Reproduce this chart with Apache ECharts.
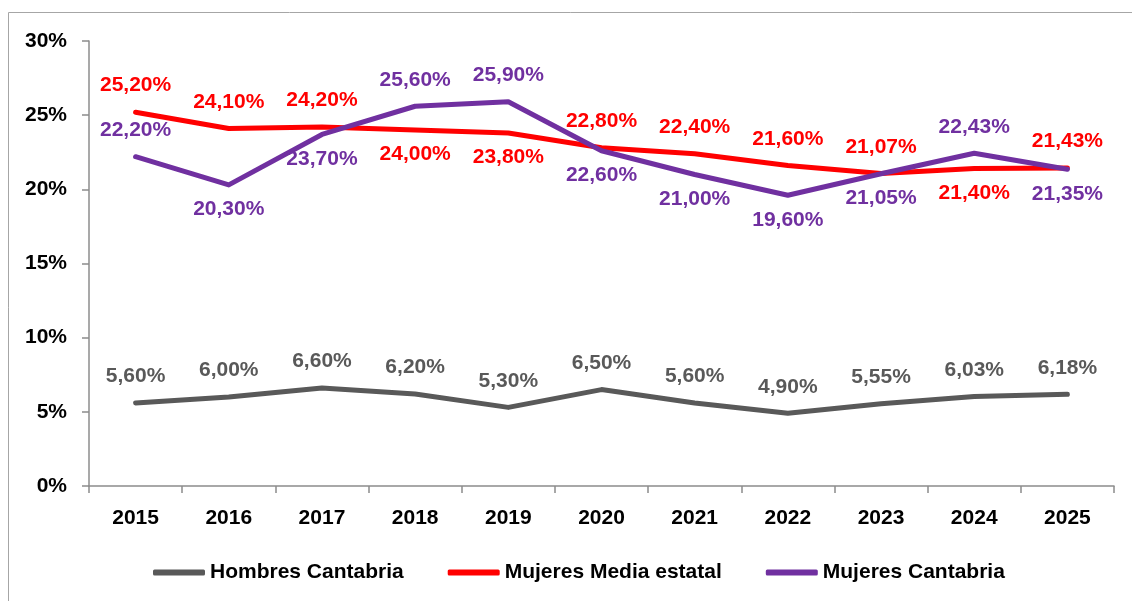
<!DOCTYPE html>
<html>
<head>
<meta charset="utf-8">
<script src="https://cdn.jsdelivr.net/npm/echarts@6/dist/echarts.min.js"></script>
<style>
  html, body { margin: 0; padding: 0; background: #fff; }
  #chart { width: 1132px; height: 601px; }
</style>
</head>
<body>
<div id="chart"></div>
<script>
const years = ["2015", "2016", "2017", "2018", "2019", "2020", "2021", "2022", "2023", "2024", "2025"];
const hombresCantabria = [5.60, 6.00, 6.60, 6.20, 5.30, 6.50, 5.60, 4.90, 5.55, 6.03, 6.18];
const mujeresMediaEstatal = [25.20, 24.10, 24.20, 24.00, 23.80, 22.80, 22.40, 21.60, 21.07, 21.40, 21.43];
const mujeresCantabria = [22.20, 20.30, 23.70, 25.60, 25.90, 22.60, 21.00, 19.60, 21.05, 22.43, 21.35];

// where each data label sits relative to its point
const redLabelPos = ["top", "top", "top", "bottom", "bottom", "top", "top", "top", "top", "bottom", "top"];
const purpleLabelPos = ["top", "bottom", "bottom", "top", "top", "bottom", "bottom", "bottom", "bottom", "top", "bottom"];

const font = "'Liberation Sans', Arial, sans-serif";
const axisColor = "#8c8c8c";

function fmt(v) {
  return v.toFixed(2).replace(".", ",") + "%";
}

function buildData(values, positions, lastShift, firstShift) {
  return values.map((value, i) => {
    const pos = positions ? positions[i] : "top";
    let offset = [0, 0];
    if (i === values.length - 1) offset = [lastShift, 0];
    if (i === 0 && firstShift) offset = [firstShift, 0];
    return {
      value,
      label: { position: pos, distance: pos === "top" ? 16 : 14, offset }
    };
  });
}

function lineSeries(name, values, color, positions, lastShift, firstShift) {
  return {
    type: "line",
    name,
    data: buildData(values, positions, lastShift, firstShift),
    symbol: "circle",
    symbolSize: 0,
    showSymbol: true,
    lineStyle: { width: 5, color, cap: "round", join: "round" },
    itemStyle: { color },
    label: {
      show: true,
      color,
      fontFamily: font,
      fontWeight: "bold",
      fontSize: 21,
      formatter: (p) => fmt(p.value)
    },
    labelLayout: { hideOverlap: false },
    emphasis: { disabled: true }
  };
}

const chart = echarts.init(document.getElementById("chart"), null, { renderer: "canvas" });
chart.setOption({
  animation: false,
  backgroundColor: "#fff",
  graphic: [
    {
      type: "rect",
      shape: { x: 8.5, y: 12.5, width: 1140, height: 620 },
      style: { fill: "none", stroke: "#a6a6a6", lineWidth: 1 },
      silent: true
    }
  ],
  grid: { left: 89, right: 18, top: 41, bottom: 115, containLabel: false },
  legend: {
    bottom: 13,
    left: 148,
    itemWidth: 52,
    itemHeight: 6,
    itemGap: 44,
    icon: "roundRect",
    textStyle: { fontFamily: font, fontWeight: "bold", fontSize: 21, color: "#000" },
    data: ["Hombres Cantabria", "Mujeres Media estatal", "Mujeres Cantabria"]
  },
  xAxis: {
    type: "category",
    data: years,
    boundaryGap: true,
    axisLine: { lineStyle: { color: axisColor, width: 1.5 } },
    axisTick: { show: true, length: 7, lineStyle: { color: axisColor, width: 1.5 } },
    axisLabel: { margin: 22, color: "#000", fontFamily: font, fontWeight: "bold", fontSize: 21 }
  },
  yAxis: {
    type: "value",
    min: 0,
    max: 30,
    interval: 5,
    axisLine: { show: true, lineStyle: { color: axisColor, width: 1.5 } },
    axisTick: { show: true, length: 7, lineStyle: { color: axisColor, width: 1.5 } },
    splitLine: { show: false },
    axisLabel: {
      margin: 22,
      color: "#000",
      fontFamily: font,
      fontWeight: "bold",
      fontSize: 21,
      formatter: (v) => v + "%"
    }
  },
  series: [
    lineSeries("Hombres Cantabria", hombresCantabria, "#595959", null, 26, 0),
    lineSeries("Mujeres Media estatal", mujeresMediaEstatal, "#ff0000", redLabelPos, 20, 0),
    lineSeries("Mujeres Cantabria", mujeresCantabria, "#7030a0", purpleLabelPos, 22, -10)
  ]
});
</script>
</body>
</html>
